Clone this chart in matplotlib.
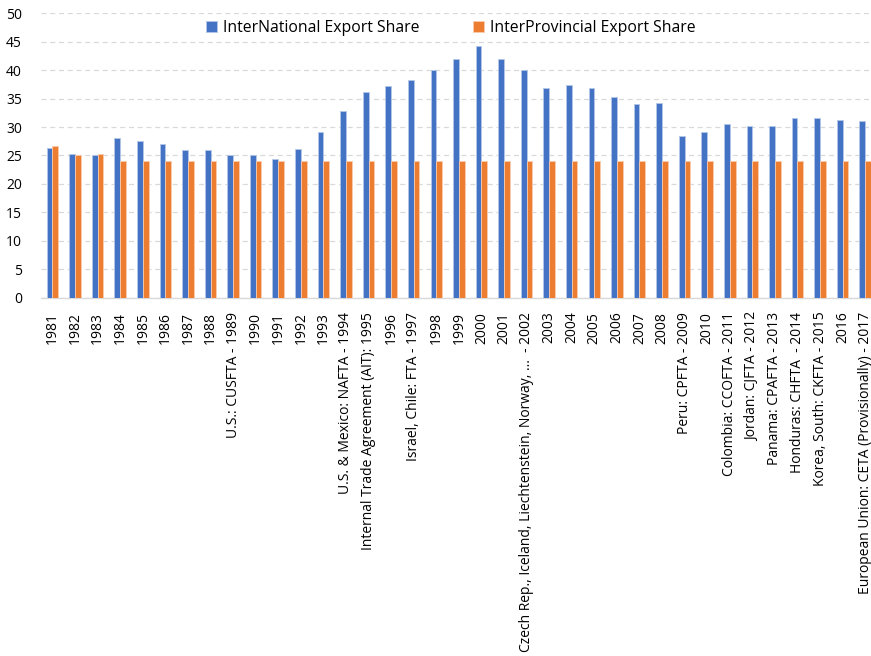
import numpy as np
import matplotlib
matplotlib.use("Agg")
import matplotlib.pyplot as plt

plt.rcParams['font.family'] = ['Open Sans', 'DejaVu Sans']

labels = ['1981', '1982', '1983', '1984', '1985', '1986', '1987', '1988',
          'U.S.: CUSFTA - 1989', '1990', '1991', '1992', '1993',
          'U.S. & Mexico: NAFTA - 1994', 'Internal Trade Agreement (AIT): 1995',
          '1996', 'Israel, Chile: FTA - 1997', '1998', '1999', '2000', '2001',
          'Czech Rep., Iceland, Liechtenstein, Norway, ...  - 2002',
          '2003', '2004', '2005', '2006', '2007', '2008', 'Peru: CPFTA - 2009',
          '2010', 'Colombia: CCOFTA - 2011', 'Jordan: CJFTA - 2012',
          'Panama: CPAFTA - 2013', 'Honduras: CHFTA  - 2014',
          'Korea, South: CKFTA - 2015', '2016',
          'European Union: CETA (Provisionally) - 2017']

international = [26.4, 25.2, 25.0, 28.0, 27.6, 27.0, 26.0, 26.0, 25.1, 25.1,
                 24.3, 26.2, 29.1, 32.8, 36.1, 37.2, 38.2, 40.0, 41.9, 44.3,
                 42.0, 40.0, 36.8, 37.3, 36.8, 35.3, 34.1, 34.3, 28.4, 29.1,
                 30.5, 30.2, 30.2, 31.5, 31.6, 31.2, 31.0]
interprovincial = [26.7, 25.1, 25.2] + [24.0] * 34

blue = '#4472c4'
orange = '#ed7d31'

fig = plt.figure(figsize=(8.71, 6.56), dpi=100)
# plot area runs past the right edge, as in the exported sheet
ax = fig.add_axes([0.0473, 0.546, 0.959, 0.434])

x = np.arange(len(labels))
w = 0.255
ax.bar(x - w / 2, international, w, color=blue, edgecolor='#b4c7e7',
       linewidth=0.6, label='InterNational Export Share', zorder=3)
ax.bar(x + w / 2, interprovincial, w, color=orange, edgecolor='#f8cbad',
       linewidth=0.6, label='InterProvincial Export Share', zorder=3)

ax.set_xlim(-0.5, len(labels) - 0.5)
ax.set_ylim(0, 50)
ax.set_yticks(np.arange(0, 51, 5))
ax.yaxis.grid(True, color='#d9d9d9', linestyle=(0, (4, 3)), linewidth=0.9, zorder=0)
ax.set_xticks(x)
ax.set_xticklabels(labels, rotation=90, va='top', ha='center')
ax.tick_params(axis='both', length=0, labelsize=10, colors='black')
ax.tick_params(axis='x', pad=10)
ax.tick_params(axis='y', pad=14)
for s in ['top', 'right', 'left']:
    ax.spines[s].set_visible(False)
ax.spines['bottom'].set_color('#d9d9d9')
ax.spines['bottom'].set_linewidth(1.0)

fig.legend(loc='center', bbox_to_anchor=(451 / 871, 1 - 28 / 656), ncol=2,
           frameon=False, fontsize=11.3, handlelength=0.7, handleheight=0.7,
           handletextpad=0.4, columnspacing=3.4)

fig.savefig('out.png', dpi=100)
